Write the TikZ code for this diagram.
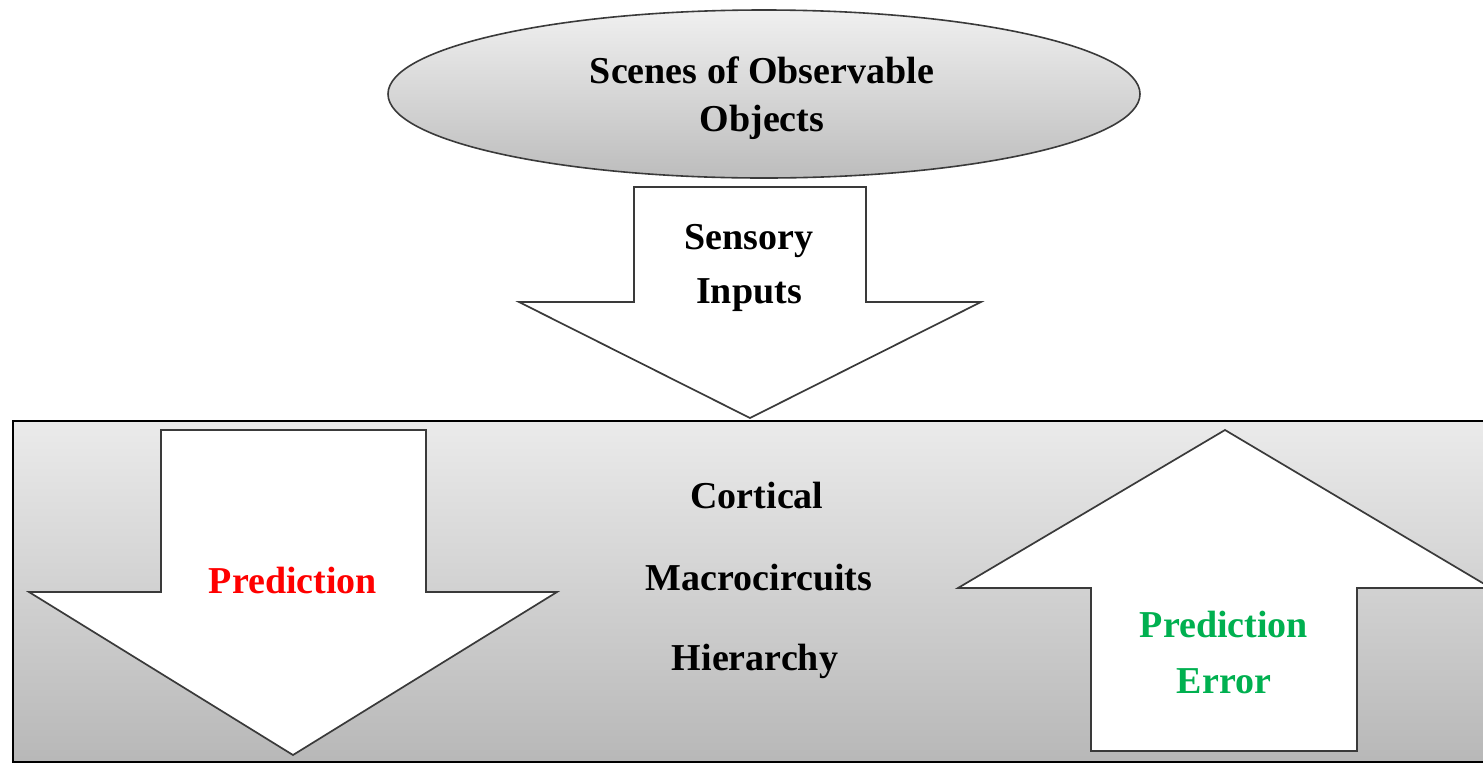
\documentclass[tikz,border=0pt]{standalone}
\usepackage{fontspec}
\setmainfont{Liberation Serif}
\usetikzlibrary{shapes.geometric}
\definecolor{errgreen}{HTML}{00B050}
\definecolor{edge}{HTML}{3A3A3A}
\tikzset{
  label/.style={anchor=base, inner sep=0pt, font=\fontsize{38}{46}\selectfont\bfseries},
  bigarrow/.style={draw=edge, line width=1.7pt, fill=white, line join=miter},
}
\begin{document}
\begin{tikzpicture}[x=1pt, y=-1pt]
  \clip (0,0) rectangle (1483,764);
  \fill[white] (0,0) rectangle (1483,764);

  % top ellipse: the observed scene
  \shade[top color=black!6, bottom color=black!26, draw=edge, line width=1.6pt]
    (764,94) ellipse [x radius=376, y radius=84];
  \node[label] (scenes) at (762,83) {Scenes of Observable};
  \node[label] (objects) at (762,131) {Objects};

  % sensory input arrow
  \draw[bigarrow] (634,187) -- (866,187) -- (866,302) -- (981,302) -- (750,418)
    -- (519,302) -- (634,302) -- cycle;
  \node[label] (sensory) at (749,249) {Sensory};
  \node[label] (inputs) at (749,303) {Inputs};

  % cortical hierarchy box
  \shade[top color=black!8, bottom color=black!28, draw=black, line width=1.8pt]
    (13,421) rectangle (1500,762);

  % downward prediction arrow
  \draw[bigarrow] (161,430) -- (426,430) -- (426,592) -- (557,592) -- (293,755)
    -- (29,592) -- (161,592) -- cycle;
  \node[label, text=red] (pred) at (293,593) {Prediction};

  % upward prediction-error arrow
  \draw[bigarrow] (1225,430) -- (1491,588) -- (1357,588) -- (1357,751)
    -- (1091,751) -- (1091,588) -- (958,588) -- cycle;
  \node[label, text=errgreen] (perr1) at (1224,637) {Prediction};
  \node[label, text=errgreen] (perr2) at (1224,693) {Error};

  % centre label
  \node[label] (cort) at (757,508) {Cortical};
  \node[label] (macro) at (759,590) {Macrocircuits};
  \node[label] (hier) at (755,670) {Hierarchy};
\end{tikzpicture}
\end{document}
